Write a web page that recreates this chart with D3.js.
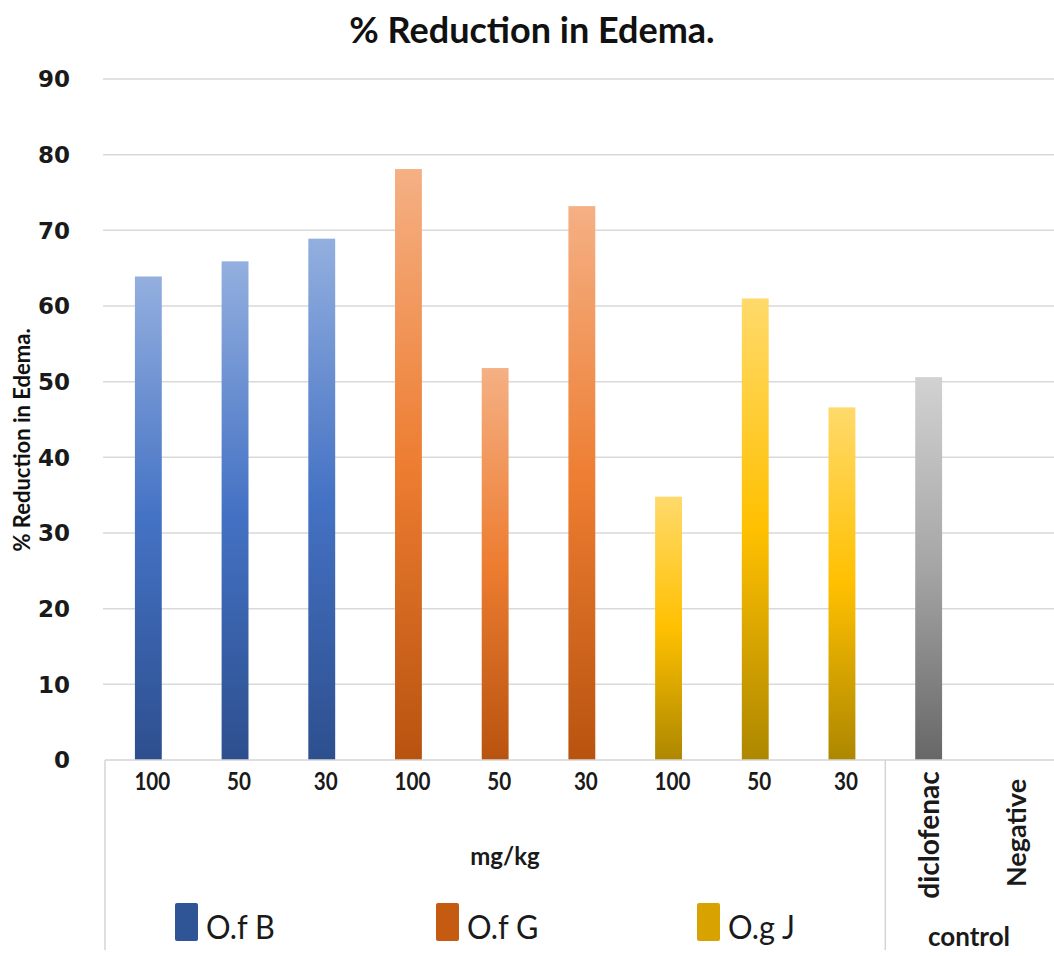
<!DOCTYPE html>
<html>
<head>
<meta charset="utf-8">
<script src="https://cdn.jsdelivr.net/npm/d3@7"></script>
<style>
  html, body { margin: 0; padding: 0; background: #ffffff; }
  svg { display: block; }
</style>
</head>
<body>
<script>
// Dose groups and their measured % reduction in edema
const doses = ["100", "50", "30"];
const seriesNames = ["O.f B", "O.f G", "O.g J"];
const ofB = [63.9, 65.9, 68.9];
const ofG = [78.1, 51.8, 73.2];
const ogJ = [34.8, 61.0, 46.6];
const controlNames = ["diclofenac", "Negative"];
const controlValues = [50.6, 0];
const yTicks = [0, 10, 20, 30, 40, 50, 60, 70, 80, 90];

const W = 1054, H = 956;
const svg = d3.select("body").append("svg").attr("width", W).attr("height", H);
const defs = svg.append("defs");

// gradient palettes: light top, base middle, dark bottom
const palettes = {
  blue:   ["#93afdf", "#4472c4", "#2d4f8e"],
  orange: ["#f5b084", "#ed7d31", "#b8530f"],
  yellow: ["#ffda6b", "#ffc000", "#ad8700"],
  gray:   ["#d2d2d2", "#a5a5a5", "#676767"]
};
Object.entries(palettes).forEach(([k, c]) => {
  const g = defs.append("linearGradient").attr("id", "grad-" + k)
    .attr("x1", 0).attr("y1", 0).attr("x2", 0).attr("y2", 1);
  g.append("stop").attr("offset", "0%").attr("stop-color", c[0]);
  g.append("stop").attr("offset", "50%").attr("stop-color", c[1]);
  g.append("stop").attr("offset", "100%").attr("stop-color", c[2]);
});
const legendColors = ["#2f5597", "#c55a11", "#d8a300"];
const seriesGrad = ["blue", "orange", "yellow"];

// flatten into bar records
const bars = [];
[ofB, ofG, ogJ].forEach((vals, s) => {
  vals.forEach((v, i) => bars.push({ key: seriesNames[s] + "|" + doses[i], label: doses[i], value: v, grad: seriesGrad[s] }));
});
controlNames.forEach((n, i) => bars.push({ key: "control|" + n, label: n, value: controlValues[i], grad: "gray", control: true }));

const left = 105, step = 86.7;
const x = d3.scaleBand()
  .domain(bars.map(d => d.key))
  .range([left, left + step * bars.length])
  .paddingInner(0.69)
  .paddingOuter(0.345);
const y = d3.scaleLinear().domain([0, 90]).range([760, 79]);

// gridlines
svg.append("g").selectAll("line").data(yTicks.filter(t => t > 0)).join("line")
  .attr("x1", 103).attr("x2", W)
  .attr("y1", d => y(d)).attr("y2", d => y(d))
  .attr("stroke", "#d9d9d9").attr("stroke-width", 1.5);

// y tick labels
svg.append("g").selectAll("text").data(yTicks).join("text")
  .attr("x", 70).attr("y", d => y(d)).attr("dy", "0.36em")
  .attr("text-anchor", "end")
  .attr("font-family", "DejaVu Sans").attr("font-weight", 700).attr("font-size", 23)
  .attr("fill", "#1a1a1a")
  .text(d => d);

// bars
svg.append("g").selectAll("rect").data(bars).join("rect")
  .attr("x", d => x(d.key)).attr("width", x.bandwidth())
  .attr("y", d => y(d.value)).attr("height", d => y(0) - y(d.value))
  .attr("fill", d => "url(#grad-" + d.grad + ")");

// baseline and category frame
const sepX = (x(bars[8].key) + x.bandwidth() + x(bars[9].key)) / 2;
svg.append("line").attr("x1", left).attr("x2", W).attr("y1", y(0)).attr("y2", y(0))
  .attr("stroke", "#d4d4d4").attr("stroke-width", 1.5);
[left, sepX].forEach(xx => {
  svg.append("line").attr("x1", xx).attr("x2", xx).attr("y1", y(0)).attr("y2", 950)
    .attr("stroke", "#d4d4d4").attr("stroke-width", 1.5);
});

// dose tick labels (slightly condensed)
svg.append("g").selectAll("text").data(bars.filter(d => !d.control)).join("text")
  .attr("transform", d => `translate(${x(d.key) + x.bandwidth() / 2 + 4},781) scale(0.86,1)`)
  .attr("dy", "0.36em")
  .attr("text-anchor", "middle")
  .attr("font-family", "Lato").attr("font-weight", 700).attr("font-size", 24)
  .attr("fill", "#1a1a1a")
  .text(d => d.label);

// control tick labels (rotated)
svg.append("g").selectAll("text").data(bars.filter(d => d.control)).join("text")
  .attr("transform", d => `translate(${x(d.key) + x.bandwidth() / 2 + 1},${d.label === "Negative" ? 833 : 835}) rotate(-90)`)
  .attr("dy", "0.35em")
  .attr("text-anchor", "middle")
  .attr("font-family", "Lato").attr("font-weight", 700)
  .attr("font-size", d => d.label === "Negative" ? 27 : 28)
  .attr("fill", "#1a1a1a")
  .text(d => d.label);

// group labels
svg.append("text").attr("x", 505).attr("y", 857).attr("dy", "0.35em")
  .attr("text-anchor", "middle")
  .attr("font-family", "Lato").attr("font-weight", 700).attr("font-size", 24)
  .attr("fill", "#1a1a1a").text("mg/kg");
svg.append("text").attr("x", 969).attr("y", 937).attr("dy", "0.35em")
  .attr("text-anchor", "middle")
  .attr("font-family", "Lato").attr("font-weight", 700).attr("font-size", 26)
  .attr("fill", "#1a1a1a").text("control");

// legend
const legendX = [175, 436, 697];
const lg = svg.append("g").selectAll("g").data(seriesNames).join("g")
  .attr("transform", (d, i) => `translate(${legendX[i]},903)`);
lg.append("rect").attr("width", 23).attr("height", 38).attr("rx", 2)
  .attr("fill", (d, i) => legendColors[i]);
lg.append("text").attr("transform", "translate(31,36) scale(0.93,1)")
  .attr("font-family", "Lato").attr("font-weight", 400).attr("font-size", 33)
  .attr("fill", "#1a1a1a").text(d => d);

// titles
svg.append("text").attr("x", 532).attr("y", 30).attr("dy", "0.35em")
  .attr("text-anchor", "middle")
  .attr("font-family", "Lato").attr("font-weight", 700).attr("font-size", 36)
  .attr("fill", "#111").text("% Reduction in Edema.");
svg.append("text").attr("transform", "translate(22,440) rotate(-90)").attr("dy", "0.35em")
  .attr("text-anchor", "middle")
  .attr("font-family", "Lato").attr("font-weight", 700).attr("font-size", 22)
  .attr("fill", "#111").text("% Reduction in Edema.");
</script>
</body>
</html>
